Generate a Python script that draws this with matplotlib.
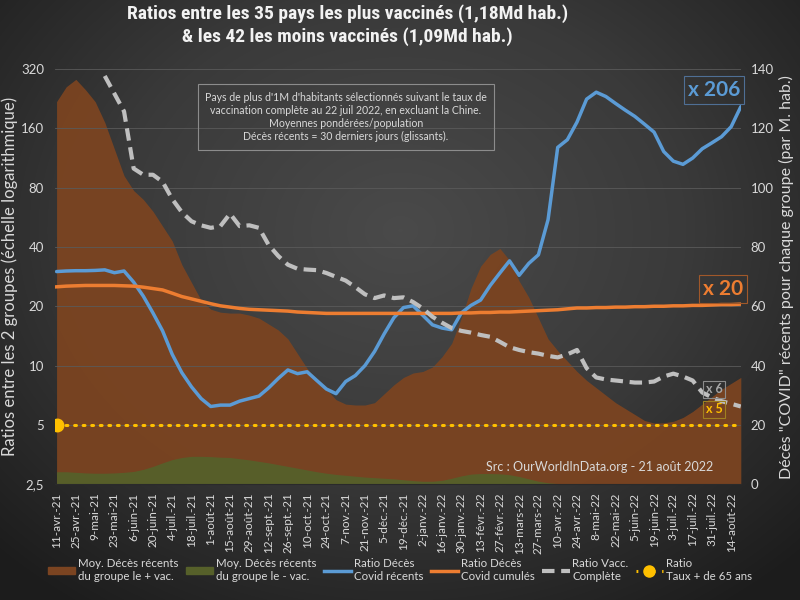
import datetime as dt
import numpy as np
import matplotlib
matplotlib.use("Agg")
import matplotlib.pyplot as plt
from matplotlib.patches import Patch
from matplotlib.lines import Line2D
from matplotlib.colors import LinearSegmentedColormap
from matplotlib import font_manager

plt.rcParams['font.family'] = ['Lato', 'DejaVu Sans']

# Dates hebdomadaires (11 avril 2021 -> 21 août 2022)
dates = [dt.date(2021, 4, 11) + dt.timedelta(days=7 * k) for k in range(72)]
mois = ['janv.', 'févr.', 'mars', 'avr.', 'mai', 'juin',
        'juil.', 'août', 'sept.', 'oct.', 'nov.', 'déc.']

# Décès récents (par M. hab.) - groupe le + vacciné (axe droit)
deces_plus_vac = [129, 134, 136.5, 133, 129, 122, 113, 104, 99, 96, 92, 87,
                  82, 74, 68, 62, 59, 58, 57.7, 57.7, 57, 56, 54, 52,
                  49, 44, 39, 35, 32, 28.5, 27, 26.7, 26.7, 27.5, 30.5, 33.5,
                  36, 37.5, 38, 39.5, 43, 47.5, 56, 66, 73.5, 77.5, 79.5, 75.5,
                  68.5, 63, 56, 49, 45, 41.5, 38, 35, 32.5, 30, 27.5, 25.5,
                  23.5, 21.5, 20.6, 20.7, 21.2, 22.5, 24.5, 27, 29.5, 32, 34, 36]

# Décès récents (par M. hab.) - groupe le - vacciné (axe droit)
deces_moins_vac = [4.2, 4.2, 4.0, 3.8, 3.7, 3.7, 3.8, 4.0, 4.3, 5.0, 6.0, 7.2,
                   8.3, 9.0, 9.4, 9.4, 9.3, 9.1, 9.0, 8.6, 8.2, 7.7, 7.2, 6.6,
                   6.0, 5.4, 4.8, 4.2, 3.7, 3.3, 3.0, 2.7, 2.4, 2.2, 2.0, 1.8,
                   1.5, 1.2, 1.0, 1.0, 1.3, 2.0, 2.8, 3.4, 3.6, 3.6, 3.5, 3.2,
                   2.6, 1.8, 1.0, 0.5, 0.2, 0.1, 0, 0, 0, 0, 0, 0,
                   0, 0, 0, 0, 0, 0, 0, 0, 0, 0, 0, 0]

# Ratio décès Covid récents (axe gauche, log)
ratio_recents = [30, 30.2, 30.3, 30.3, 30.4, 30.6, 29.6, 30.2, 26.5, 22.5, 18.5, 15.0,
                 11.4, 9.2, 7.8, 6.8, 6.2, 6.3, 6.3, 6.6, 6.8, 7.0, 7.7, 8.6,
                 9.5, 9.1, 9.3, 8.4, 7.6, 7.2, 8.3, 8.9, 10.0, 11.8, 14.5, 17.5,
                 19.7, 20.1, 18.0, 16.1, 15.5, 15.2, 18.5, 20.2, 21.5, 25.5, 29.5, 34,
                 28.7, 33, 36.5, 55, 128, 140, 172, 225, 244, 232, 214, 198,
                 184, 168, 153, 122, 109, 105, 113, 126, 135, 145, 163, 206]

# Ratio décès Covid cumulés (axe gauche, log)
ratio_cumules = [25.1, 25.3, 25.4, 25.5, 25.5, 25.5, 25.5, 25.4, 25.3, 25.0, 24.6, 24.2,
                 23.3, 22.4, 21.8, 21.2, 20.6, 20.1, 19.8, 19.5, 19.3, 19.2, 19.1, 19.0,
                 18.9, 18.7, 18.6, 18.5, 18.4, 18.4, 18.4, 18.4, 18.4, 18.4, 18.4, 18.4,
                 18.4, 18.4, 18.4, 18.4, 18.4, 18.4, 18.5, 18.5, 18.6, 18.6, 18.7, 18.7,
                 18.8, 18.9, 19.0, 19.1, 19.2, 19.4, 19.6, 19.6, 19.7, 19.7, 19.8, 19.8,
                 19.9, 19.9, 20.0, 20.0, 20.1, 20.1, 20.2, 20.2, 20.3, 20.4, 20.4, 20.5]

# Ratio vaccination complète (axe gauche, log)
nan = np.nan
ratio_vacc = [nan, nan, nan, nan, nan, 295, 240, 195, 100, 93, 93, 85.6,
              70, 60, 54, 51.5, 50, 51, 59, 51, 51.5, 50, 41, 36,
              32.5, 31, 30.7, 30.5, 29.5, 28.2, 27, 25, 23, 22, 22.7, 22,
              22.2, 21.0, 19.5, 17.7, 16.5, 15.5, 15.0, 14.7, 14.3, 14.0, 13.2, 12.4,
              12.0, 11.7, 11.5, 11.2, 11.0, 11.4, 12.0, 9.7, 8.7, 8.5, 8.4, 8.3,
              8.2, 8.2, 8.3, 8.8, 9.1, 8.8, 8.4, 7.3, 6.9, 6.6, 6.4, 6.2]

# Ratio taux + de 65 ans (constant)
ratio_65 = [5] * len(dates)

left_ticks = [2.5, 5, 10, 20, 40, 80, 160, 320]
left_labels = ['2,5', '5', '10', '20', '40', '80', '160', '320']
right_ticks = [0, 20, 40, 60, 80, 100, 120, 140]

c_orange_area = '#7b4421'
c_green_area = '#56602a'
c_blue = '#5b9bd5'
c_orange = '#ed7d31'
c_gray = '#bfbfbf'
c_yellow = '#ffc000'
c_text = '#d9d9d9'

names = {f.name for f in font_manager.fontManager.ttflist}
title_family = ['DejaVu Sans']
for cand in ['Liberation Sans Narrow', 'Roboto Condensed', 'DejaVu Sans Condensed']:
    if cand in names:
        title_family = [cand, 'DejaVu Sans']
        break

fig = plt.figure(figsize=(8, 6), dpi=100)

# fond dégradé sombre
bg = fig.add_axes([0, 0, 1, 1], zorder=-10)
yy, xx = np.mgrid[0:600, 0:800]
r = np.sqrt(((xx - 400) / 520.0) ** 2 + ((yy - 230) / 420.0) ** 2)
cmap_bg = LinearSegmentedColormap.from_list('bg', ['#4a4a4a', '#3a3a3a', '#1c1c1c'])
bg.imshow(r, cmap=cmap_bg, vmin=0, vmax=1.1, aspect='auto')
bg.axis('off')

# axe des aires (droite)
ax = fig.add_axes([0.069, 0.193, 0.857, 0.692])
ax.set_facecolor('none')
ax.fill_between(dates, deces_plus_vac, color=c_orange_area, alpha=0.95, lw=0)
ax.fill_between(dates, deces_moins_vac, color=c_green_area, alpha=0.95, lw=0)
ax.set_ylim(0, 140)

# axe des ratios (gauche, log)
axl = ax.twinx()
axl.set_facecolor('none')

ax.set_yticks(right_ticks)
ax.yaxis.tick_right()
ax.yaxis.set_label_position('right')
ax.set_ylabel('Décès "COVID" récents pour chaque groupe (par M. hab.)',
              color=c_text, fontsize=11.5, labelpad=4)
ax.tick_params(axis='y', colors=c_text, labelsize=9.5, length=0, pad=7)

axl.set_yscale('log', base=2)
axl.set_ylim(2.5, 320)
axl.yaxis.tick_left()
axl.yaxis.set_label_position('left')
axl.set_yticks(left_ticks)
axl.set_yticklabels(left_labels)
axl.minorticks_off()
axl.tick_params(axis='y', colors=c_text, labelsize=9.5, length=0, pad=8)
axl.set_ylabel('Ratios entre les 2 groupes (échelle logarithmique)',
               color=c_text, fontsize=12, labelpad=2)
for t in left_ticks[1:]:
    axl.axhline(t, color='#5a5a5a', lw=0.6, zorder=0)

axl.plot(dates, ratio_recents, color=c_blue, lw=2.5, solid_capstyle='round')
axl.plot(dates, ratio_cumules, color=c_orange, lw=2.5)
axl.plot(dates, ratio_vacc, color=c_gray, lw=3, dashes=(3, 1.6))
axl.plot(dates, ratio_65, color=c_yellow, lw=2.2, ls=(0, (0.6, 2.2)),
         dash_capstyle='round')
axl.plot(dates[:1], ratio_65[:1], 'o', color=c_yellow, ms=9)

ax.set_xlim(dates[0] - dt.timedelta(days=1.5), dates[-1])
tick_dates = dates[:-1:2]
ax.set_xticks(tick_dates)
ax.set_xticklabels(['%d-%s-%s' % (d.day, mois[d.month - 1], str(d.year)[2:])
                    for d in tick_dates], rotation=90)
ax.tick_params(axis='x', colors=c_text, labelsize=8.5, length=0, pad=6)
for a in (ax, axl):
    for s in a.spines.values():
        s.set_visible(False)
ax.spines['bottom'].set_visible(True)
ax.spines['bottom'].set_color('#2a2a2a')

# titre
fig.text(0.434, 0.958, 'Ratios entre les 35 pays les plus vaccinés (1,18Md hab.)\n'
         '& les 42 les moins vaccinés (1,09Md hab.)',
         ha='center', va='center', color='#f2f2f2', fontsize=14,
         fontweight='bold', family=title_family, fontstretch='condensed',
         linespacing=1.25)

# encadré explicatif
fig.text(0.4325, 0.805, "Pays de plus d'1M d'habitants sélectionnés suivant le taux de\n"
         "vaccination complète au 22 juil 2022, en excluant la Chine.\n"
         "Moyennes pondérées/population\n"
         "Décès récents = 30 derniers jours (glissants).",
         ha='center', va='center', color=c_text, fontsize=7.6, linespacing=1.25,
         bbox=dict(boxstyle='square,pad=0.7', facecolor='none', edgecolor='#8c8c8c', lw=0.8))

# étiquettes de valeurs finales
fig.text(0.8925, 0.85, 'x 206', ha='center', va='center', color=c_blue,
         fontsize=15, fontweight='bold',
         bbox=dict(boxstyle='square,pad=0.2', facecolor='none', edgecolor='#4f6f95', lw=0.8))
fig.text(0.904, 0.518, 'x 20', ha='center', va='center', color=c_orange,
         fontsize=15, fontweight='bold',
         bbox=dict(boxstyle='square,pad=0.2', facecolor='none', edgecolor='#a0582a', lw=0.8))
fig.text(0.8925, 0.351, 'x 6', ha='center', va='center', color='#a6a6a6',
         fontsize=9, fontweight='bold',
         bbox=dict(boxstyle='square,pad=0.2', facecolor='none', edgecolor='#8c8c8c', lw=0.8))
fig.text(0.8925, 0.318, 'x 5', ha='center', va='center', color=c_yellow,
         fontsize=9, fontweight='bold',
         bbox=dict(boxstyle='square,pad=0.2', facecolor='none', edgecolor='#a08020', lw=0.8))
fig.text(0.75, 0.222, 'Src : OurWorldInData.org - 21 août 2022', ha='center', va='center',
         color=c_text, fontsize=9)

# légende
handles = [Patch(color=c_orange_area), Patch(color=c_green_area),
           Line2D([], [], color=c_blue, lw=2.5),
           Line2D([], [], color=c_orange, lw=2.5),
           Line2D([], [], color=c_gray, lw=3, dashes=(3, 1.6)),
           Line2D([], [], color=c_yellow, lw=2.2, ls=(0, (0.6, 2.2)),
                  marker='o', markevery=[0], ms=8)]
labels = ['Moy. Décès récents\ndu groupe le + vac.',
          'Moy. Décès récents\ndu groupe le - vac.',
          'Ratio Décès\nCovid récents',
          'Ratio Décès\nCovid cumulés',
          'Ratio Vacc.\nComplète',
          'Ratio\nTaux + de 65 ans']
fig.legend(handles, labels, loc='center', bbox_to_anchor=(0.5, 0.05), ncol=6,
           frameon=False, fontsize=8.3, labelcolor=c_text, handlelength=2.4,
           handleheight=0.6, columnspacing=0.6, handletextpad=0.25)

fig.savefig('out.png', dpi=100)
